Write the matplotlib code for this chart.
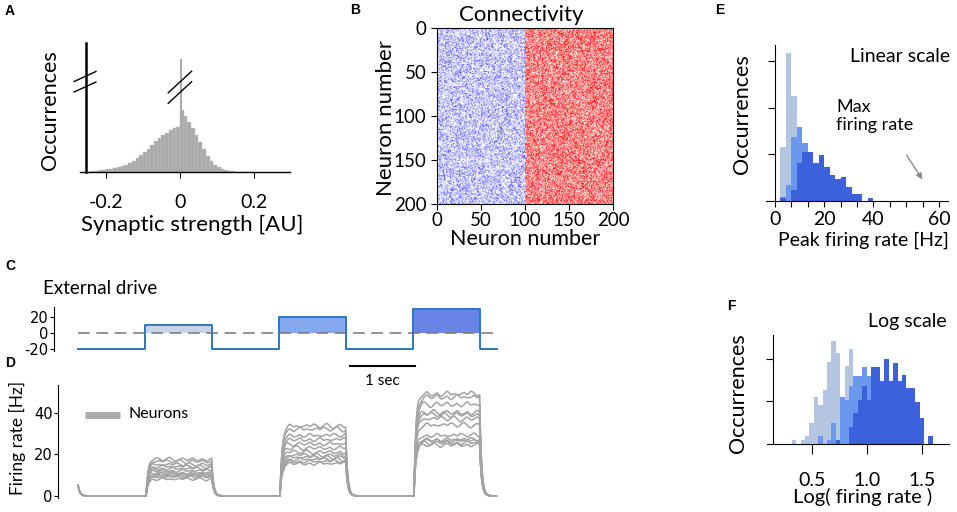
import numpy as np
import matplotlib
matplotlib.use('Agg')
import matplotlib.pyplot as plt

plt.rcParams['font.family'] = ['Lato', 'DejaVu Sans']
plt.rcParams['axes.unicode_minus'] = False

W, H = 957, 512

# ---- A: synaptic strength histogram ----
syn_edges = np.round(np.arange(-0.25, 0.2001, 0.01), 3)
syn_counts = [0.5, 1, 1.5, 2, 2.5, 3, 3.5, 4, 5, 6,
              7, 9, 11, 14, 17, 20, 23, 27, 31, 34,
              37, 39, 42, 44, 45, 62, 56, 50, 44, 37,
              30, 23, 16, 11, 7, 5, 3, 2, 1.5, 1,
              0.5, 0.3, 0.2, 0.1, 0.1]
spike_height = 113

# ---- C: external drive ----
drive_t = [0, 1, 2, 3, 4, 5, 6, 6.25]
drive_v = [-20, 10, -20, 20, -20, 30, -20, -20]
pulse_on = [1, 3, 5]
pulse_level = [10, 20, 30]
pulse_colors = ['#c9d3e8', '#86a8ef', '#6784e6']

# ---- D: neuron firing rates, plateau level per pulse ----
lvl_p1 = [17.5, 16.5, 15, 14, 13, 12, 11, 10.5, 10, 9.5, 9, 8]
lvl_p2 = [33.5, 32, 29, 27, 25, 23, 21, 19.5, 18.5, 17.5, 16.5, 15.5]
lvl_p3 = [49, 47.5, 44, 40, 39, 37, 34, 29, 27, 26.5, 25.5, 24.5]
wiggle = [0.0, 0.6, -0.3, 0.9, 0.2, -0.7, 0.4, 1.0, -0.2, -0.9, 0.3, 0.7,
          -0.5, 0.1, 0.8, -0.6, -0.1, 0.5, -0.8, 0.2, 0.9, -0.4, 0.3, -0.2]

# ---- E: peak firing rate histograms ----
peak_edges = np.arange(2, 37, 2)
peak_light = [11.5, 31.6, 22.4, 8, 3, 1, 0, 0, 0, 0, 0, 0, 0, 0, 0, 0, 0]
peak_mid = [0.9, 3.4, 13.8, 15.9, 12.5, 9, 6, 4, 2.5, 1.5, 1, 0.5, 0, 0, 0, 0, 0]
peak_dark = [0.6, 0, 2.3, 8.1, 10.5, 10.5, 8.1, 9.9, 7.2, 5.6, 4.8, 5.1, 3.1, 1.4, 1.4, 0, 0.7]

# ---- F: log firing rate histograms ----
log_edges = np.round(np.arange(0.32, 1.6001, 0.04), 2)
log_light = [0.9, 0, 0.9, 1.9, 4.8, 11.1, 9.1, 12.6, 19.1, 24, 21.3, 10, 18.3, 22.2, 13.9, 6,
             3, 1, 0, 0, 0, 0, 0, 0, 0, 0, 0, 0, 0, 0, 0, 0]
log_mid = [0, 0, 0, 0, 0, 0, 1.9, 0, 0.9, 4.8, 0.9, 11.1, 10.3, 13.5, 15.8, 15.8,
           18, 16, 18, 18, 14, 10, 8, 6, 4, 2, 1, 0, 0, 0, 0, 0]
log_dark = [0, 0, 0, 0, 0, 0, 0, 0, 0, 0, 0.9, 0, 0, 4, 7.3, 10.3,
            13.5, 10.3, 18.1, 18.1, 14.8, 20, 14.8, 19, 14.8, 16.2, 13, 13, 9.9, 6, 0, 1.9]
hist_colors = ['#b3c5e0', '#6b98ef', '#3b61dc']


def box(l, t, r, b):
    return [l / W, 1 - b / H, (r - l) / W, (b - t) / H]


def ftxt(x, y, s, **kw):
    fig.text(x / W, 1 - y / H, s, **kw)


fig = plt.figure(figsize=(W / 100, H / 100), dpi=100)

letter_kw = dict(fontsize=10, fontweight='bold', family='Liberation Sans', ha='left', va='center')
narrow = ['Liberation Sans Narrow', 'DejaVu Sans']

# A
ax = fig.add_axes(box(80, 43, 290, 172))
ax.bar(syn_edges[:-1], syn_counts, width=0.01, align='edge', color='#aaaaaa',
       edgecolor='#c4c4c4', linewidth=0.3)
ax.bar(0, spike_height, width=0.006, align='edge', color='#aaaaaa')
ax.set_xlim(-0.27, 0.2973)
ax.set_ylim(0, 129)
for s in ['top', 'right']:
    ax.spines[s].set_visible(False)
ax.spines['left'].set_position(('data', -0.254))
ax.spines['left'].set_linewidth(1.8)
ax.spines['bottom'].set_linewidth(1.0)
ax.set_yticks([])
ax.set_xticks([-0.2, 0, 0.2], ['-0.2', '0', '0.2'])
ax.tick_params(axis='x', labelsize=14, length=4, pad=12)
for dy in (0, 10.5):
    ax.plot([-0.286, -0.227], [80 + dy, 90 + dy], color='k', lw=1, clip_on=False)
    ax.plot([-0.0316, 0.0316], [68.7 + dy, 90.3 + dy], color='k', lw=1, clip_on=False)
ftxt(50, 110, 'Occurrences', fontsize=15.5, rotation=90, ha='center', va='center')
ftxt(192, 225, 'Synaptic strength [AU]', fontsize=16, ha='center', va='center')
ftxt(5, 11, 'A', **letter_kw)

# B
rng = np.random.default_rng(3)  # texture only: individual weights are unreadable
a_exc = 0.8 * rng.random((200, 100)) ** 2.5
a_inh = rng.random((200, 100)) ** 1.1
img = np.ones((200, 200, 3))
img[:, :100, 0] = 1 - a_exc
img[:, :100, 1] = 1 - a_exc
img[:, 100:, 1] = 1 - a_inh
img[:, 100:, 2] = 1 - a_inh
ax = fig.add_axes(box(437, 28, 613, 204))
ax.imshow(img, extent=[0, 200, 200, 0], interpolation='bilinear', aspect='auto')
ax.set_xticks([0, 50, 100, 150, 200])
ax.set_yticks([0, 50, 100, 150, 200])
ax.tick_params(labelsize=13.5, length=4)
ax.tick_params(axis='x', pad=2)
ftxt(386, 118, 'Neuron number', fontsize=16, rotation=90, ha='center', va='center')
ftxt(525, 239, 'Neuron number', fontsize=15.5, ha='center', va='center')
ftxt(521, 15, 'Connectivity', fontsize=16, ha='center', va='center')
ftxt(350, 10, 'B', **letter_kw)

# C
ax = fig.add_axes(box(54, 307, 500, 351))
for on, lv, c in zip(pulse_on, pulse_level, pulse_colors):
    ax.fill_between([on, on + 1], 0, lv, color=c, lw=0)
ax.plot([0, 6.25], [0, 0], color='#7f7f7f', lw=1.2, dashes=(7, 4))
ax.plot(drive_t, drive_v, drawstyle='steps-post', color='#2a78c2', lw=1.4)
ax.set_xlim(-0.358, 6.3)
ax.set_ylim(-22.5, 32.5)
for s in ['top', 'right', 'bottom']:
    ax.spines[s].set_visible(False)
ax.set_xticks([])
ax.set_yticks([-20, 0, 20])
ax.tick_params(axis='y', length=3, pad=1)
for lab in ax.get_yticklabels():
    lab.set_family(narrow)
    lab.set_fontsize(10.5)
ftxt(100, 289, 'External drive', fontsize=13.5, ha='center', va='center')
ftxt(5, 266, 'C', **letter_kw)

# D
dt = 0.005
t = np.arange(0, 6.25, dt)
knots = np.linspace(0, 1, 21)
ax = fig.add_axes(box(58, 385, 500, 498))
for i in range(len(lvl_p1)):
    target = np.zeros_like(t)
    for k, (on, lv) in enumerate(zip(pulse_on, [lvl_p1[i], lvl_p2[i], lvl_p3[i]])):
        w = np.roll(wiggle, 3 * i + 7 * k)[:21]
        m = (t >= on + 0.02) & (t < on + 1)
        target[m] = lv + (1.0 + 0.03 * lv) * np.interp(t[m] - on, knots, w)
    r = np.zeros_like(t)
    r[0] = 5
    for j in range(1, len(t)):
        r[j] = r[j - 1] + dt / 0.03 * (target[j] - r[j - 1])
    ax.plot(t, r, color='#a3a3a3', lw=1.1)
ax.set_xlim(-0.3, 6.3)
ax.set_ylim(-1, 53.5)
for s in ['top', 'right', 'bottom']:
    ax.spines[s].set_visible(False)
ax.set_xticks([])
ax.set_yticks([0, 20, 40])
ax.tick_params(axis='y', length=3, pad=1)
for lab in ax.get_yticklabels():
    lab.set_family(narrow)
    lab.set_fontsize(10.5)
ax.plot([0.1, 0.62], [39, 39], color='#aaaaaa', lw=5, solid_capstyle='butt')
ax.text(0.75, 39.5, 'Neurons', fontsize=11.5, va='center')
ax.plot([4.06, 5.03], [62.5, 62.5], color='k', lw=1.5, clip_on=False)
ax.text(4.545, 55.5, '1 sec', fontsize=11, ha='center', va='center')
ftxt(17, 438, 'Firing rate [Hz]', fontsize=12.5, rotation=90, ha='center', va='center')
ftxt(5, 363, 'D', **letter_kw)

# E
ax = fig.add_axes(box(766, 45, 948, 201))
for vals, c in zip([peak_light, peak_mid, peak_dark], hist_colors):
    ax.stairs(vals, peak_edges, fill=True, color=c, lw=0)
ax.set_xlim(-3.3, 63.3)
ax.set_ylim(0, 33.4)
for s in ['top', 'right']:
    ax.spines[s].set_visible(False)
ax.spines['left'].set_position(('data', 0))
ax.set_yticks([10, 20, 30], [])
ax.set_xticks(np.linspace(0, 60, 11), ['0', '', '', '20', '', '', '40', '', '', '', '60'])
ax.tick_params(axis='x', labelsize=14, length=4, pad=3)
ax.tick_params(axis='y', length=5)
ax.annotate('', xy=(54.5, 4.1), xytext=(47.6, 10.3),
            arrowprops=dict(arrowstyle='-|>', color='#8c8c8c', lw=1, mutation_scale=9))
ax.text(22.4, 18.2, 'Max\nfiring rate', fontsize=13, va='center', linespacing=1.2)
ftxt(950, 56, 'Linear scale', fontsize=14, ha='right', va='center')
ftxt(742, 114, 'Occurrences', fontsize=15.5, rotation=90, ha='center', va='center')
ftxt(863, 240, 'Peak firing rate [Hz]', fontsize=14, ha='center', va='center')
ftxt(715, 10, 'E', **letter_kw)

# F
ax = fig.add_axes(box(767, 335, 949, 444))
for vals, c in zip([log_light, log_mid, log_dark], hist_colors):
    ax.stairs(vals, log_edges, fill=True, color=c, lw=0)
ax.set_xlim(0.094, 1.748)
ax.set_ylim(0, 25.5)
for s in ['top', 'right']:
    ax.spines[s].set_visible(False)
ax.spines['left'].set_position(('data', 0.149))
ax.set_yticks([10, 20], [])
ax.set_xticks([0.5, 1.0, 1.5], ['0.5', '1.0', '1.5'])
ax.tick_params(axis='x', labelsize=14, length=7, pad=13)
ax.tick_params(axis='y', length=5)
ftxt(947, 322, 'Log scale', fontsize=14, ha='right', va='center')
ftxt(738, 393, 'Occurrences', fontsize=15.5, rotation=90, ha='center', va='center')
ftxt(863, 497, 'Log( firing rate )', fontsize=14.5, ha='center', va='center')
ftxt(727, 306, 'F', **letter_kw)

fig.savefig('out.png', dpi=100)
